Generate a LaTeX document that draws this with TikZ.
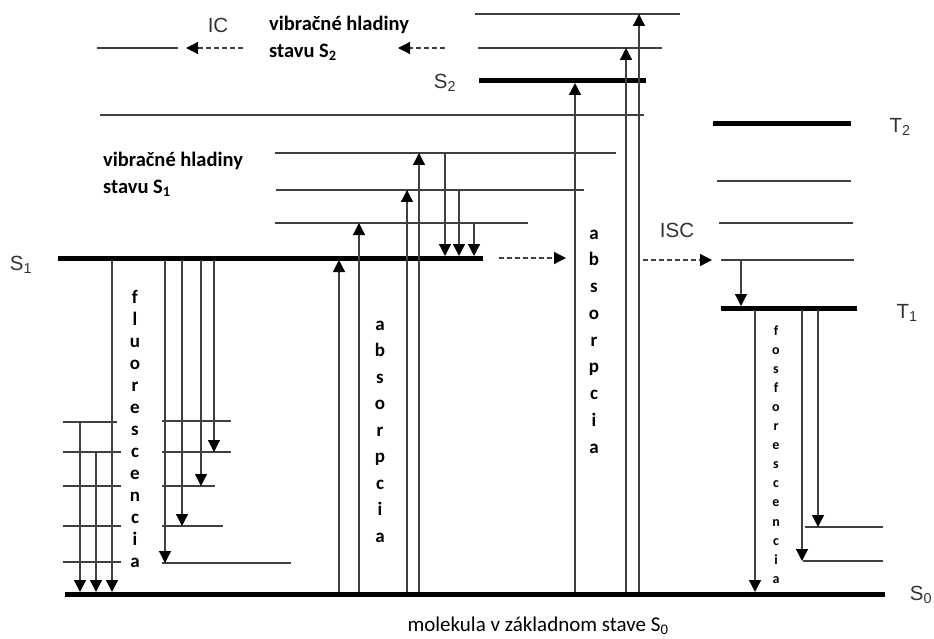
\documentclass[tikz,border=0pt]{standalone}
\usepackage{fontspec}
\setmainfont{Carlito}
\newfontfamily\arialfont{Liberation Sans}
\usetikzlibrary{arrows.meta}

\begin{document}
\begin{tikzpicture}[x=1pt,y=-1pt,
  lvl/.style={line width=1.3pt,draw=black!75},
  mainlvl/.style={line width=5pt,draw=black},
  arr/.style={lvl,-{Triangle[length=12pt,width=12pt,color=black]}},
  darr/.style={arr,dash pattern=on 5pt off 3pt},
  statelab/.style={font=\arialfont\fontsize{20.5}{20.5}\selectfont,text=black!80},
  vibtext/.style={font=\bfseries\fontsize{20.5}{27}\selectfont,align=left,anchor=west,inner sep=0pt},
  letter/.style={font=\bfseries\fontsize{19}{19}\selectfont,anchor=base,inner sep=0pt},
  smallletter/.style={font=\bfseries\fontsize{14}{14}\selectfont,anchor=base,inner sep=0pt}]
\useasboundingbox (0,0) rectangle (934,639);

% S2 levels
\draw[mainlvl] (479,81) -- (646,81);
\draw[lvl] (478,48) -- (662,48);
\draw[lvl] (475,14) -- (680,14);
\draw[lvl] (97,48) -- (178,48);
% S1 levels
\draw[lvl] (100,115) -- (644,115);
\draw[lvl] (275,153) -- (616,153);
\draw[lvl] (276,190) -- (584,190);
\draw[lvl] (275,223) -- (528,223);
\draw[mainlvl] (58,258) -- (483,258);
% T levels
\draw[mainlvl] (713,124) -- (851,124);
\draw[lvl] (717,181) -- (851,181);
\draw[lvl] (719,223) -- (853,223);
\draw[lvl] (721,260) -- (854,260);
\draw[mainlvl] (721,308) -- (857,308);
% S0 levels
\draw[mainlvl] (65,594) -- (885,594);
\foreach \y/\r in {422/117,452/121,486/121,526/121,562/121}
  \draw[lvl] (63,\y) -- (\r,\y);
\foreach \y/\r in {421/231,452/231,486/215,526/223,563/291}
  \draw[lvl] (162,\y) -- (\r,\y);
\draw[lvl] (805,527) -- (883,527);
\draw[lvl] (803,561) -- (883,561);

% absorption
\foreach \x/\y in {339/260,359/223,407/190,419/153,575/83,626/48,639/14}
  \draw[arr] (\x,592) -- (\x,\y);
% vibrational relaxation
\foreach \x/\y in {445/153,459/190,474/223}
  \draw[arr] (\x,\y) -- (\x,256);
% fluorescence
\draw[arr] (112,260) -- (112,592);
\draw[arr] (96,452) -- (96,592);
\draw[arr] (80,422) -- (80,592);
\foreach \x/\y in {165/563,182/526,201/486,214/452}
  \draw[arr] (\x,260) -- (\x,\y);
% ISC and phosphorescence
\draw[arr] (741,260) -- (741,306);
\draw[arr] (755,310) -- (755,592);
\draw[arr] (802,310) -- (802,561);
\draw[arr] (818,310) -- (818,527);
% IC / ISC dashed
\draw[darr] (243,48) -- (186,48);
\draw[darr] (445,48) -- (398,48);
\draw[darr] (499,258) -- (566,258);
\draw[darr] (643,260) -- (712,260);

% labels
\node[statelab] (ic) at (218,25) {IC};
\node[statelab] (isc) at (677,230) {ISC};
\node[statelab] (labS1) at (21,265) {S\textsubscript{1}};
\node[statelab] (labS2) at (445,83) {S\textsubscript{2}};
\node[statelab] (labT2) at (900,127) {T\textsubscript{2}};
\node[statelab] (labT1) at (907,313) {T\textsubscript{1}};
\node[statelab] (labS0) at (921,595) {S\textsubscript{0}};
\node[vibtext] (vibS2) at (269,38.5) {vibračné hladiny\\stavu S\textsubscript{2}};
\node[vibtext] (vibS1) at (103,174) {vibračné hladiny\\stavu S\textsubscript{1}};
\node[font=\fontsize{21}{21}\selectfont,inner sep=1pt] (ground) at (538,626) {molekula v základnom stave S\textsubscript{0}};

% vertical words
\foreach \c [count=\i from 0] in {f,l,u,o,r,e,s,c,e,n,c,i,a}
  \node[letter] (fl-\i) at (135,303+22*\i) {\c};
\foreach \c [count=\i from 0] in {a,b,s,o,r,p,c,i,a}
  \node[letter] (absA-\i) at (380,330+26.5*\i) {\c};
\foreach \c [count=\i from 0] in {a,b,s,o,r,p,c,i,a}
  \node[letter] (absB-\i) at (594,239+26.75*\i) {\c};
\foreach \c [count=\i from 0] in {f,o,s,f,o,r,e,s,c,e,n,c,i,a}
  \node[smallletter] (fos-\i) at (776,335+19.1*\i) {\c};
\end{tikzpicture}
\end{document}
